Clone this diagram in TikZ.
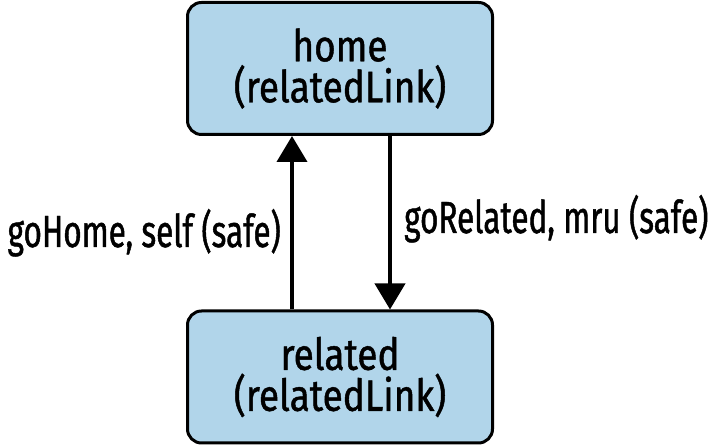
\documentclass[tikz,border=0pt]{standalone}
\usepackage{fontspec}
\setmainfont{Fira Sans}
\newfontfamily\boxfont{Fira Sans}[FakeStretch=0.84, FakeBold=1]
\newfontfamily\labelfont{Fira Sans}[FakeStretch=0.7, FakeBold=1]
\usetikzlibrary{arrows.meta}

\definecolor{boxblue}{HTML}{B1D5EA}
\tikzset{
  statebox/.style={draw=black, line width=3pt, rounded corners=14pt, fill=boxblue,
    minimum width=305pt, minimum height=132pt, align=center,
    font=\boxfont\fontsize{44}{41}\selectfont},
  translink/.style={line width=4pt, -{Triangle[width=30pt,length=26pt]}},
  linklabel/.style={font=\labelfont\fontsize{45}{50}\selectfont, inner sep=0pt}
}

\begin{document}
\begin{tikzpicture}[x=1pt, y=1pt]

    % Define parameters
    \def\W{717}
    \def\H{446}

    \useasboundingbox (0,0) rectangle (\W,\H);

    % states
    \node[statebox] (home) at (340, 377.5) {home\\(relatedLink)};
    \node[statebox] (related) at (340, 69) {related\\(relatedLink)};

    % transitions
    \draw[translink] ([xshift=-48pt]related.north) -- ([xshift=-48pt]home.south);
    \draw[translink] ([xshift=50pt]home.south) -- ([xshift=50pt]related.north);

    % labels
    \node[linklabel, anchor=base east] (gohome) at (281, 199) {goHome, self (safe)};
    \node[linklabel, anchor=base west] (gorelated) at (404, 213) {goRelated, mru (safe)};

\end{tikzpicture}
\end{document}
